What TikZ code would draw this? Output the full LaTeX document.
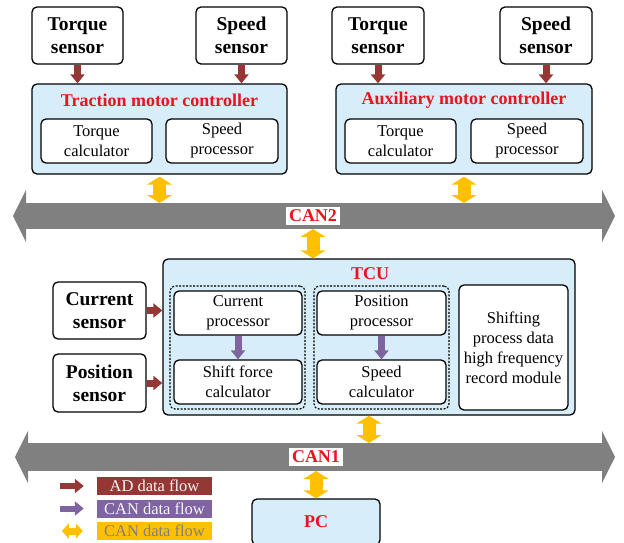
\documentclass[tikz,border=0pt]{standalone}
\usepackage{fontspec}
\setmainfont{Liberation Serif}
\usetikzlibrary{arrows.meta}
\tikzset{>=latex}
\definecolor{ADcol}{RGB}{149,55,53}
\definecolor{CANcol}{RGB}{128,100,162}
\definecolor{BUScol}{RGB}{255,192,0}
\definecolor{Gcol}{RGB}{128,128,128}
\definecolor{Bluecol}{RGB}{215,237,250}
\definecolor{Redcol}{RGB}{232,20,30}
\tikzstyle{sensor}=[draw,line width=1.3pt,rounded corners=5pt,fill=white,align=center,inner sep=0,font=\bfseries\fontsize{19.5}{23}\selectfont]
\tikzstyle{controller}=[draw,line width=1.3pt,rounded corners=5pt,fill=Bluecol,inner sep=0]
\tikzstyle{unit}=[draw,line width=1.3pt,rounded corners=5pt,fill=white,align=center,inner sep=0,font=\fontsize{16.5}{20}\selectfont]
\tikzstyle{group}=[draw,line width=1.1pt,dash pattern=on 2pt off 1.5pt,rounded corners=5pt,inner sep=0]
\tikzstyle{redtitle}=[text=Redcol,font=\bfseries\fontsize{18}{20}\selectfont]
\tikzstyle{buslabel}=[redtitle,fill=white,inner sep=3pt]
\tikzstyle{ADflow}=[ADcol,line width=7pt,-{Triangle[width=14pt,length=9pt]}]
\tikzstyle{CANflow}=[CANcol,line width=7pt,-{Triangle[width=14pt,length=9pt]}]
\tikzstyle{BUSflow}=[BUScol,line width=13pt,{Triangle[width=25pt,length=8pt]}-{Triangle[width=25pt,length=8pt]}]
\tikzstyle{canbus}=[Gcol,line width=26pt,{Triangle[width=52pt,length=13pt]}-{Triangle[width=52pt,length=13pt]}]
\tikzstyle{legend}=[minimum width=115pt,minimum height=18pt,inner sep=0,font=\fontsize{16.5}{18}\selectfont]

\begin{document}
\begin{tikzpicture}[x=1pt,y=-1pt]
  \clip (0,0) rectangle (624,542);
  \coordinate (c2w)   at (13,216);
  \coordinate (c2e)   at (615,216);
  \coordinate (c2top) at (0,203);
  \coordinate (c2bot) at (0,229);
  \coordinate (c1w)   at (15,457);
  \coordinate (c1e)   at (615,457);
  \coordinate (c1top) at (0,443);
  \coordinate (c1bot) at (0,471);

  % SENSORS top
  \node[sensor,minimum width=91pt,minimum height=57pt] (ts1) at (77.5,35.5) {Torque\\sensor};
  \node[sensor,minimum width=91pt,minimum height=57pt] (ss1) at (241.5,35.5) {Speed\\sensor};
  \node[sensor,minimum width=92pt,minimum height=57pt] (ts2) at (378,35.5) {Torque\\sensor};
  \node[sensor,minimum width=92pt,minimum height=57pt] (ss2) at (546,35.5) {Speed\\sensor};

  % CONTROLLERS
  \node[controller,minimum width=255pt,minimum height=90pt] (tmc) at (159.5,129) {};
  \node[redtitle] (tmct) at (159.5,100) {Traction motor controller};
  \node[unit,minimum width=111pt,minimum height=44pt] (tc1) at (96.5,141) {Torque\\calculator};
  \node[unit,minimum width=112pt,minimum height=44pt] (sp1) at (222,141) {Speed\\processor};

  \node[controller,minimum width=256pt,minimum height=90pt] (amc) at (464,129) {};
  \node[redtitle] (amct) at (464,100) {Auxiliary motor controller};
  \node[unit,minimum width=111pt,minimum height=44pt] (tc2) at (400.5,141) {Torque\\calculator};
  \node[unit,minimum width=112pt,minimum height=44pt] (sp2) at (527,141) {Speed\\processor};

  \draw[ADflow] (ts1.south) -- (ts1.south |- tmc.north);
  \draw[ADflow] (ss1.south) -- (ss1.south |- tmc.north);
  \draw[ADflow] (ts2.south) -- (ts2.south |- amc.north);
  \draw[ADflow] (ss2.south) -- (ss2.south |- amc.north);

  % CAN2
  \draw[canbus] (c2w) -- (c2e);
  \node[buslabel] (can2) at (313,216) {CAN2};
  \draw[BUSflow] ([yshift=-2pt]tmc.south) -- (tmc.south |- c2top);
  \draw[BUSflow] ([yshift=-2pt]amc.south) -- (amc.south |- c2top);

  % TCU
  \node[controller,minimum width=412pt,minimum height=156pt] (tcu) at (369,337) {};
  \node[redtitle] (tcut) at (370,274) {TCU};
  \node[group,minimum width=135pt,minimum height=123pt] (g1) at (237.5,347.5) {};
  \node[group,minimum width=135pt,minimum height=123pt] (g2) at (381.5,347.5) {};
  \node[unit,minimum width=128pt,minimum height=44pt] (cp) at (238,313) {Current\\processor};
  \node[unit,minimum width=128pt,minimum height=44pt] (sfc) at (238,382) {Shift force\\calculator};
  \node[unit,minimum width=129pt,minimum height=44pt] (pp) at (381.5,313) {Position\\processor};
  \node[unit,minimum width=129pt,minimum height=44pt] (sc) at (381.5,382) {Speed\\calculator};
  \node[unit,minimum width=109pt,minimum height=125pt] (rec) at (513.5,347.5)
    {Shifting\\process data\\high frequency\\record module};
  \draw[CANflow] (cp) -- (sfc);
  \draw[CANflow] (pp) -- (sc);
  \draw[BUSflow] (can2 |- c2bot) -- (can2 |- tcu.north);

  % SENSORS left
  \node[sensor,minimum width=93pt,minimum height=57pt] (cs) at (99.5,310.5) {Current\\sensor};
  \node[sensor,minimum width=93pt,minimum height=58pt] (ps) at (99.5,383) {Position\\sensor};
  \draw[ADflow] (cs.east) -- (cs.east -| tcu.west);
  \draw[ADflow] (ps.east) -- (ps.east -| tcu.west);

  % CAN1
  \draw[canbus,line width=28pt] (c1w) -- (c1e);
  \node[buslabel] (can1) at (316,457) {CAN1};
  \draw[BUSflow] (tcu.south) -- (tcu.south |- c1top);
  \node[controller,redtitle,minimum width=128pt,minimum height=46pt] (pc) at (316,522) {PC};
  \draw[BUSflow] (pc |- c1bot) -- (pc.north);

  % LEGEND
  \node[legend,fill=ADcol,text=white!92!gray] (lad) at (154.5,486) {AD data flow};
  \node[legend,fill=CANcol,text=white!92!gray] (lcan) at (154.5,508.5) {CAN data flow};
  \node[legend,fill=BUScol,text=Gcol] (lbus) at (154.5,531) {CAN data flow};
  \draw[ADflow,line width=6pt] ([xshift=-37pt]lad.west) -- ([xshift=-13pt]lad.west);
  \draw[CANflow,line width=6pt] ([xshift=-37pt]lcan.west) -- ([xshift=-13pt]lcan.west);
  \draw[BUScol,line width=7pt,{Triangle[width=15pt,length=7pt]}-{Triangle[width=15pt,length=7pt]}]
    ([xshift=-35pt]lbus.west) -- ([xshift=-14pt]lbus.west);
\end{tikzpicture}
\end{document}
